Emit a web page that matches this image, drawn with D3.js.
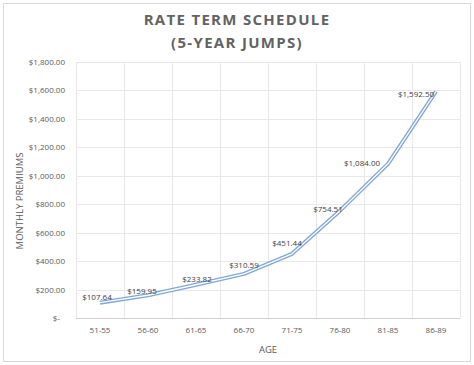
<!DOCTYPE html>
<html><head><meta charset="utf-8">
<script src="https://cdn.jsdelivr.net/npm/d3@7"></script>
<style>body{margin:0;background:#fff}svg{display:block}text{font-family:"Open Sans",sans-serif}</style>
</head><body><svg id="c" width="474" height="365"></svg>
<script>
const categories = ["51-55","56-60","61-65","66-70","71-75","76-80","81-85","86-89"];
const premiums = [107.64,159.95,233.82,310.59,451.44,754.51,1084.00,1592.50];
const yTicks = [0,200,400,600,800,1000,1200,1400,1600,1800];
// layout only: label centre offset from its point (px)
const labelDx = [-3,-6,1,0,-5,-12,-26,-20];
const labelDy = [-3,-1,-3,-6,-8,1.5,2.5,5];

const svg = d3.select("#c");
const m={l:76,r:460,t:62,b:318};
svg.append("rect").attr("x",3.5).attr("y",3.5).attr("width",467).attr("height",358).attr("fill","#fff").attr("stroke","#d9d9d9");

const xb = d3.scaleBand().domain(categories).range([m.l,m.r]);
const y = d3.scaleLinear().domain([0,1800]).range([m.b,m.t]);

const g = svg.append("g");
g.selectAll(".hg").data(yTicks.slice(1)).join("line")
  .attr("x1",m.l).attr("x2",m.r).attr("y1",d=>Math.round(y(d))+0.5).attr("y2",d=>Math.round(y(d))+0.5)
  .attr("stroke","#e8e8e8");
const bounds = categories.map(c=>xb(c)).concat([m.r]);
g.selectAll(".vg").data(bounds).join("line")
  .attr("x1",d=>Math.round(d)+0.5).attr("x2",d=>Math.round(d)+0.5).attr("y1",m.t).attr("y2",m.b)
  .attr("stroke","#e8e8e8");
svg.append("line").attr("x1",m.l).attr("x2",m.r).attr("y1",m.b+0.5).attr("y2",m.b+0.5).attr("stroke","#d0d0d0");

const fmt = d=> d===0 ? "$-" : "$"+d3.format(",.2f")(d);
svg.selectAll(".yl").data(yTicks).join("text")
  .attr("x",d=>d===0?60:65).attr("y",d=>y(d)+3).attr("text-anchor","end")
  .attr("font-size",8).attr("fill","#595959").text(fmt);

svg.selectAll(".xl").data(categories).join("text")
  .attr("x",d=>xb(d)+xb.bandwidth()/2).attr("y",333).attr("text-anchor","middle")
  .attr("font-size",8).attr("fill","#595959").text(d=>d);

svg.append("text").attr("x",268).attr("y",353).attr("text-anchor","middle").attr("font-size",9.5).attr("fill","#595959").text("AGE");
svg.append("text").attr("transform","translate(23,201) rotate(-90)").attr("text-anchor","middle").attr("font-size",9.5).attr("fill","#595959").text("MONTHLY PREMIUMS");

svg.append("text").attr("x",237).attr("y",25).attr("text-anchor","middle").attr("font-size",15).attr("font-weight","bold").attr("letter-spacing",1.3).attr("fill","#636363").text("RATE TERM SCHEDULE");
svg.append("text").attr("x",237).attr("y",48).attr("text-anchor","middle").attr("font-size",15).attr("font-weight","bold").attr("letter-spacing",1.3).attr("fill","#636363").text("(5-YEAR JUMPS)");

const pts = categories.map((c,i)=>[xb(c)+xb.bandwidth()/2, y(premiums[i])]);
const line = d3.line();
svg.append("path").attr("d",line(pts)).attr("fill","none").attr("stroke","#7fa7d3").attr("stroke-width",4).attr("stroke-linejoin","round");
svg.append("path").attr("d",line(pts)).attr("fill","none").attr("stroke","#fff").attr("stroke-width",1.3).attr("stroke-linejoin","round");

svg.selectAll(".dl").data(premiums).join("text")
  .attr("x",(d,i)=>pts[i][0]+labelDx[i])
  .attr("y",(d,i)=>pts[i][1]+labelDy[i])
  .attr("text-anchor","middle")
  .attr("font-size",8).attr("fill","#404040").text(d=>"$"+d3.format(",.2f")(d));
</script></body></html>
